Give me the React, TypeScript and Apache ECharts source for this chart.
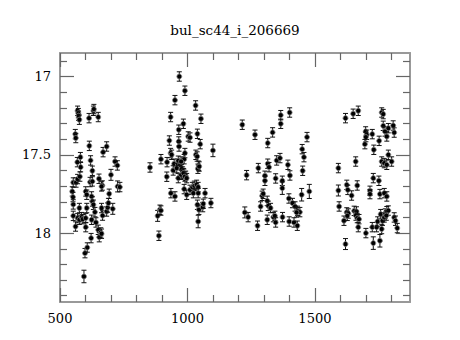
import React, { useEffect, useRef } from "react";
import * as echarts from "echarts";

const TITLE = "bul_sc44_i_206669";

// Season 1
const s1Jd = [560,562,569,572,573,576, 614,615,631,633,650,669,683, 580,568,581,620,627, 716,725,700, 552,563,569,578, 618,627,653,666,726,735, 548,551,552,552,561, 569,576,585,589,576, 601,605,605,601,601, 624,627,631,624,641,637, 663,667,650,654,660,663, 622,598,607,594, 683,687,690,693,707,663];
const s1Mag = [17.368,17.393,17.219,17.234,17.251,17.276, 17.266,17.443,17.219,17.208,17.259,17.483,17.447, 17.515,17.547,17.579,17.536,17.602, 17.543,17.568,17.628, 17.677,17.677,17.655,17.639, 17.674,17.670,17.653,17.696,17.702,17.706, 17.734,17.770,17.817,17.890,17.958, 17.904,17.915,17.898,17.911,17.840, 17.734,17.755,17.840,17.904,17.962, 17.766,17.798,17.819,17.915,17.932,17.866, 17.840,17.888,17.979,18.026,17.996,18.004, 18.032,18.128,18.092,18.277, 17.862,17.837,17.808,17.749,17.845,17.702];
const s1Err = [0.03,0.03,0.03,0.03,0.03,0.03, 0.03,0.03,0.03,0.03,0.03,0.03,0.03, 0.03,0.03,0.03,0.03,0.03, 0.03,0.03,0.035, 0.03,0.03,0.03,0.03, 0.03,0.03,0.03,0.03,0.035,0.03, 0.03,0.03,0.03,0.03,0.03, 0.03,0.03,0.03,0.03,0.03, 0.03,0.03,0.03,0.03,0.03, 0.03,0.03,0.03,0.03,0.03,0.03, 0.03,0.03,0.03,0.03,0.03,0.03, 0.03,0.03,0.03,0.04, 0.03,0.03,0.03,0.03,0.035,0.03];

// Season 2
const s2Jd = [968,990,951,1032,934,1053,984,966,1039,1003, 1010,929,966,967,1050,1100,896,853,920,919, 934,938,990,987,1033,1038,1044,1041,948,962, 971,944,958,977,981,986,993,964,975,964, 975,984,990,997,935,951,987,997,1010,1019, 1027,1036,1042,1023,1042,1069,1092,1039,1045,1060, 1062,1042,883,892,896,888,1046];
const s2Mag = [17.000,17.091,17.151,17.185,17.259,17.270,17.302,17.340,17.366,17.383, 17.390,17.409,17.415,17.447,17.432,17.472,17.528,17.581,17.547,17.640, 17.489,17.500,17.489,17.528,17.500,17.511,17.570,17.589,17.557,17.557, 17.564,17.600,17.585,17.591,17.607,17.621,17.634,17.538,17.543,17.649, 17.628,17.617,17.639,17.649,17.745,17.766,17.719,17.755,17.724,17.706, 17.698,17.692,17.706,17.745,17.745,17.745,17.808,17.819,17.851,17.834, 17.813,17.926,17.890,17.851,17.856,18.017,17.575];
const s2Err = [0.03,0.03,0.03,0.03,0.03,0.03,0.03,0.03,0.03,0.03, 0.03,0.03,0.03,0.03,0.03,0.04,0.03,0.03,0.03,0.03, 0.03,0.03,0.03,0.03,0.03,0.03,0.03,0.03,0.03,0.03, 0.03,0.03,0.03,0.03,0.03,0.03,0.03,0.03,0.03,0.03, 0.03,0.03,0.03,0.03,0.03,0.03,0.03,0.03,0.03,0.03, 0.03,0.03,0.03,0.03,0.03,0.03,0.03,0.03,0.03,0.03, 0.03,0.04,0.035,0.03,0.03,0.03,0.03];

// Season 3
const s3Jd = [1215,1265,1315,1334,1366,1366,1401,1469,1450,1457, 1452,1394,1402,1350,1363,1315,1320,1278,1232,1304, 1304,1346,1372,1372,1448,1478,1398,1412,1422,1432, 1441,1428,1293,1297,1287,1313,1317,1326,1225,1238, 1275,1313,1337,1343,1346,1373,1399,1418,1431];
const s3Mag = [17.308,17.372,17.425,17.357,17.302,17.247,17.230,17.387,17.464,17.515, 17.602,17.564,17.632,17.536,17.521,17.557,17.579,17.585,17.630,17.634, 17.666,17.651,17.666,17.713,17.755,17.734,17.779,17.808,17.830,17.858, 17.866,17.868,17.762,17.749,17.830,17.794,17.826,17.840,17.868,17.898, 17.953,17.915,17.898,17.890,17.932,17.898,17.926,17.932,17.953];
const s3Err = [0.03,0.03,0.03,0.03,0.03,0.03,0.03,0.03,0.03,0.03, 0.03,0.03,0.03,0.03,0.03,0.03,0.03,0.03,0.03,0.03, 0.03,0.03,0.03,0.04,0.04,0.045,0.03,0.03,0.03,0.03, 0.03,0.03,0.03,0.03,0.03,0.03,0.03,0.03,0.035,0.03, 0.03,0.03,0.03,0.03,0.03,0.03,0.03,0.03,0.03];

// Season 4
const s4Jd = [1620,1650,1670,1762,1768,1699,1703,1700,1696,1725, 1731,1752,1768,1775,1788,1782,1807,1811,1788,1801, 1762,1772,1782,1660,1592,1729,1751,1592,1595,1625, 1629,1644,1666,1716,1716,1755,1772,1782,1614,1625, 1631,1627,1654,1663,1661,1666,1673,1670,1620,1700, 1725,1742,1746,1758,1729,1755,1762,1765,1772,1776, 1782,1788,1780,1811,1816,1823];
const s4Mag = [17.266,17.238,17.219,17.230,17.240,17.351,17.372,17.387,17.432,17.368, 17.468,17.411,17.315,17.351,17.330,17.383,17.313,17.358,17.500,17.543, 17.543,17.553,17.564,17.543,17.585,17.649,17.666,17.728,17.830,17.692, 17.724,17.760,17.696,17.730,17.751,17.751,17.745,17.766,17.921,17.868, 17.875,17.890,17.858,17.862,17.888,17.904,17.911,17.962,18.070,18.000, 17.962,17.962,17.926,17.879,18.064,18.049,17.974,17.921,17.900,17.875, 17.860,17.856,17.888,17.900,17.921,17.968];
const s4Err = [0.03,0.03,0.03,0.03,0.03,0.03,0.03,0.03,0.03,0.03, 0.03,0.03,0.03,0.03,0.03,0.03,0.03,0.03,0.03,0.03, 0.03,0.03,0.03,0.03,0.03,0.03,0.03,0.035,0.03,0.03, 0.03,0.03,0.03,0.03,0.03,0.03,0.03,0.03,0.03,0.03, 0.03,0.03,0.03,0.03,0.03,0.03,0.03,0.03,0.035,0.03, 0.03,0.03,0.03,0.03,0.04,0.04,0.03,0.03,0.03,0.03, 0.03,0.03,0.03,0.03,0.03,0.03];

const xMajor = [500, 1000, 1500];
const xMinor = [600, 700, 800, 900, 1100, 1200, 1300, 1400, 1600, 1700, 1800];
const yMajor = [17, 17.5, 18];
const yMinor = [16.9, 17.1, 17.2, 17.3, 17.4, 17.6, 17.7, 17.8, 17.9, 18.1, 18.2, 18.3, 18.4];

const X_MIN = 500, X_MAX = 1873;
const Y_MIN = 16.85, Y_MAX = 18.44;

const FONT = "DejaVu Serif";
const FRAME = "#999999";
const TICK = "#666666";

export default function App() {
  const ref = useRef<HTMLDivElement>(null);
  useEffect(() => {
    const chart = echarts.init(ref.current!, null, { renderer: "svg" });
    const seasons: number[][][] = [
      [s1Jd, s1Mag, s1Err],
      [s2Jd, s2Mag, s2Err],
      [s3Jd, s3Mag, s3Err],
      [s4Jd, s4Mag, s4Err],
    ];
    const data: number[][] = [];
    seasons.forEach(([j, m, e]) => j.forEach((x, i) => data.push([x, m[i], e[i]])));

    const fmt = (v: number) => String(v);

    const xAx = (pos: string, vals: number[], len: number, label: boolean, line: boolean) => ({
      type: "value",
      position: pos,
      min: X_MIN,
      max: X_MAX,
      splitLine: { show: false },
      axisLine: { show: line, onZero: false, lineStyle: { color: FRAME, width: 2 } },
      axisTick: { show: true, inside: true, length: len, customValues: vals, lineStyle: { color: TICK, width: 1.2 } },
      axisLabel: label
        ? { show: true, customValues: xMajor, formatter: fmt, margin: 10, color: "#000", fontFamily: FONT, fontSize: 13 }
        : { show: false },
    });
    const yAx = (pos: string, vals: number[], len: number, label: boolean, line: boolean) => ({
      type: "value",
      position: pos,
      inverse: true,
      min: Y_MIN,
      max: Y_MAX,
      splitLine: { show: false },
      axisLine: { show: line, onZero: false, lineStyle: { color: FRAME, width: 2 } },
      axisTick: { show: true, inside: true, length: len, customValues: vals, lineStyle: { color: TICK, width: 1.2 } },
      axisLabel: label
        ? { show: true, customValues: yMajor, formatter: fmt, margin: 9, color: "#000", fontFamily: FONT, fontSize: 13 }
        : { show: false },
    });

    chart.setOption({
      animation: false,
      backgroundColor: "#ffffff",
      grid: { left: 60, top: 53, right: 50, bottom: 38, containLabel: false },
      graphic: [
        {
          type: "text",
          x: 235,
          y: 30,
          style: {
            text: TITLE,
            textAlign: "center",
            textVerticalAlign: "middle",
            fontFamily: FONT,
            fontSize: 13.5,
            fill: "#000",
          },
        },
      ],
      xAxis: [
        xAx("bottom", xMajor, 14, true, true),
        xAx("bottom", xMinor, 7, false, false),
        xAx("top", xMajor, 14, false, true),
        xAx("top", xMinor, 7, false, false),
      ],
      yAxis: [
        yAx("left", yMajor, 14, true, true),
        yAx("left", yMinor, 7, false, false),
        yAx("right", yMajor, 14, false, true),
        yAx("right", yMinor, 7, false, false),
      ],
      series: [
        {
          type: "custom",
          xAxisIndex: 0,
          yAxisIndex: 0,
          data,
          encode: { x: 0, y: 1 },
          renderItem: (params: any, api: any) => {
            const x = api.value(0);
            const y = api.value(1);
            const e = api.value(2);
            const c = api.coord([x, y]);
            const t = api.coord([x, y - e]);
            const b = api.coord([x, y + e]);
            const cap = 2.5;
            const ls = { stroke: "#111", lineWidth: 1 };
            return {
              type: "group",
              children: [
                { type: "line", shape: { x1: c[0], y1: t[1], x2: c[0], y2: b[1] }, style: ls },
                { type: "line", shape: { x1: c[0] - cap, y1: t[1], x2: c[0] + cap, y2: t[1] }, style: ls },
                { type: "line", shape: { x1: c[0] - cap, y1: b[1], x2: c[0] + cap, y2: b[1] }, style: ls },
                { type: "circle", shape: { cx: c[0], cy: c[1], r: 2.5 }, style: { fill: "#000", stroke: "#888", lineWidth: 0.8 } },
              ],
            };
          },
        },
      ],
    });
    return () => chart.dispose();
  }, []);
  return <div ref={ref} style={{ position: "fixed", left: 0, top: 0, width: 460, height: 340, background: "#fff" }} />;
}
